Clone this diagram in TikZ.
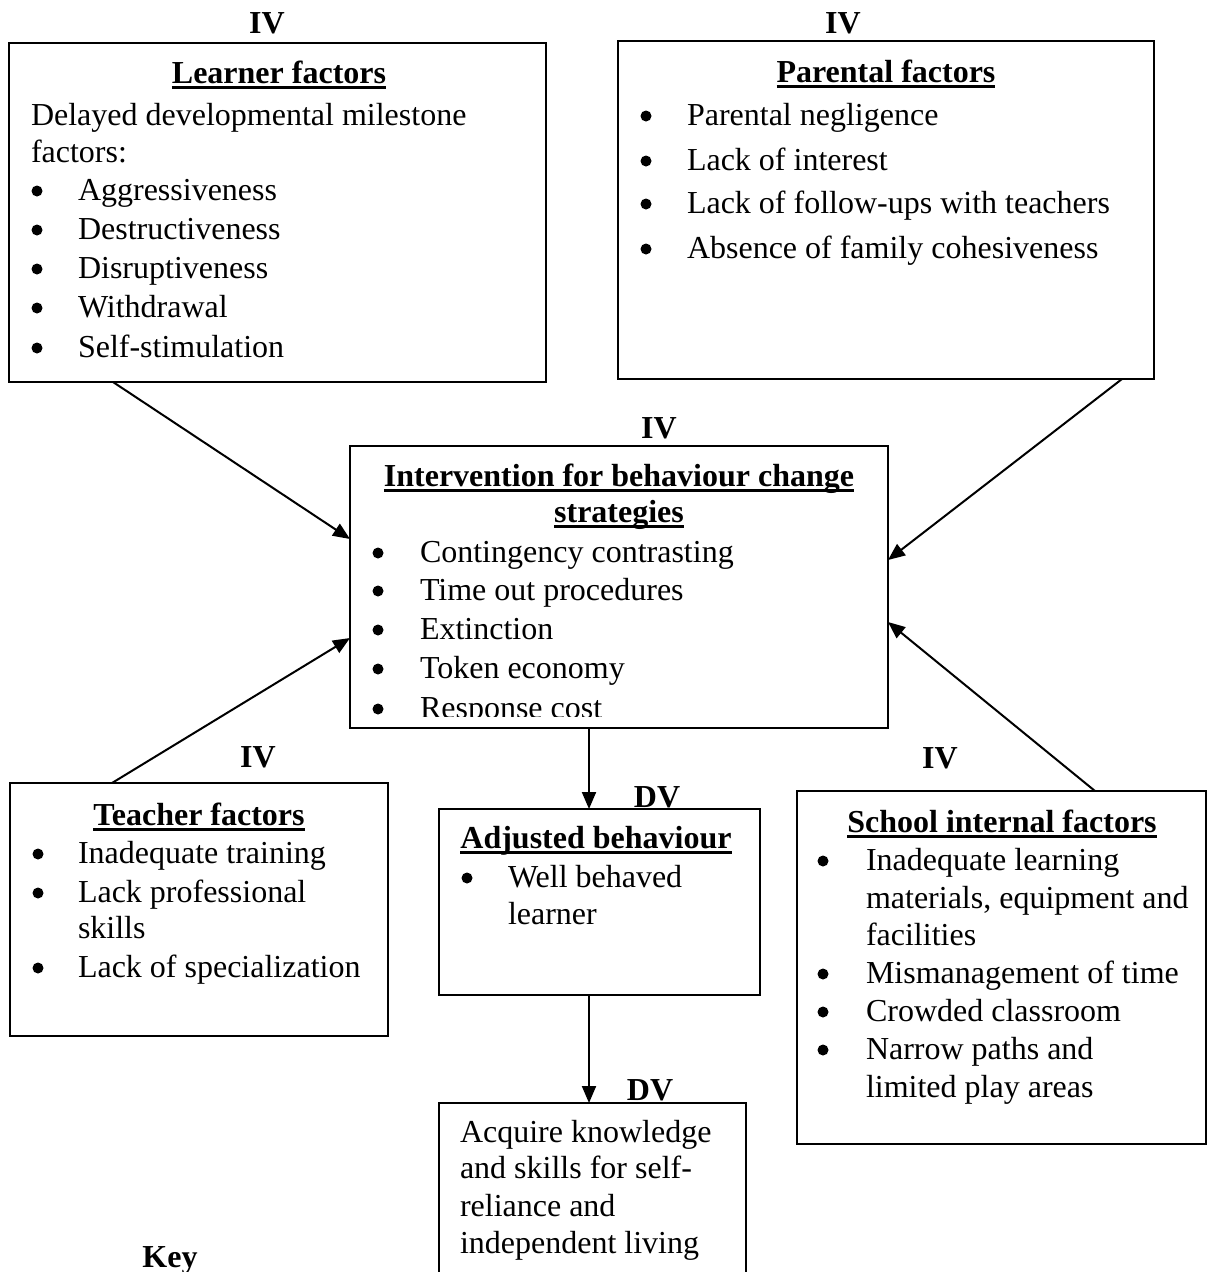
\documentclass[tikz,border=0pt]{standalone}
\usepackage{fontspec}
\setmainfont{Liberation Serif}
\usetikzlibrary{arrows.meta}
\newsavebox\hdbox
\newcommand\hul[1]{\sbox\hdbox{\bfseries #1}\rlap{\rule[-6pt]{\wd\hdbox}{3pt}}\usebox\hdbox}
\newcommand\bul[2]{\fill (#1,#2) circle (5.5pt);}
\newcommand\txtline[4]{\node[txt] (#1) at (#2,#3) {#4};}
\begin{document}
\begin{tikzpicture}[x=1pt,y=-1pt,
  box/.style={draw, line width=2pt, anchor=north west, inner sep=0pt, outer sep=0pt},
  txt/.style={anchor=base west, inner sep=0pt, outer sep=0pt, font=\fontsize{32}{38}\selectfont},
  ctxt/.style={txt, anchor=base},
  lab/.style={anchor=base, inner sep=0pt, outer sep=0pt, font=\fontsize{32}{38}\selectfont\bfseries},
  arr/.style={line width=2pt, -{Triangle[length=17pt,width=14pt]}}]
\path[use as bounding box] (0,0) rectangle (1215,1272);
\clip (0,0) rectangle (1215,1272);

% boxes
\node[box, minimum width=537pt, minimum height=339pt] (learner) at (9,43) {};
\node[box, minimum width=536pt, minimum height=338pt] (parental) at (618,41) {};
\node[box, minimum width=538pt, minimum height=282pt] (central) at (350,446) {};
\node[box, minimum width=378pt, minimum height=253pt] (teacher) at (10,783) {};
\node[box, minimum width=321pt, minimum height=186pt] (adjusted) at (439,809) {};
\node[box, minimum width=409pt, minimum height=353pt] (school) at (797,791) {};
\node[box, minimum width=307pt, minimum height=200pt] (acquire) at (439,1103) {};

% labels
\node[lab] (ivL) at (267,33) {IV};
\node[lab] (ivP) at (843,33) {IV};
\node[lab] (ivC) at (659,438) {IV};
\node[lab] (ivT) at (258,767) {IV};
\node[lab] (ivS) at (940,768) {IV};
\node[lab] (dvA) at (657,807) {DV};
\node[lab] (dvQ) at (650,1100) {DV};
\node[lab] (key) at (170,1267) {Key};

% learner
\node[ctxt] (hL) at (279,83) {\hul{Learner factors}};
\txtline{l1}{31}{125}{Delayed developmental milestone}
\txtline{l2}{31}{162}{factors:}
\txtline{l3}{78}{200}{Aggressiveness}
\txtline{l4}{78}{239}{Destructiveness}
\txtline{l5}{78}{278}{Disruptiveness}
\txtline{l6}{78}{317}{Withdrawal}
\txtline{l7}{78}{357}{Self-stimulation}
\bul{37}{191}\bul{37}{230}\bul{37}{269}\bul{37}{308}\bul{37}{348}

% parental
\node[ctxt] (hP) at (886,82) {\hul{Parental factors}};
\txtline{p1}{687}{125}{Parental negligence}
\txtline{p2}{687}{170}{Lack of interest}
\txtline{p3}{687}{213}{Lack of follow-ups with teachers}
\txtline{p4}{687}{258}{Absence of family cohesiveness}
\bul{646}{116}\bul{646}{161}\bul{646}{204}\bul{646}{249}

% central
\node[ctxt] (hC1) at (619,486) {\hul{Intervention for behaviour change}};
\node[ctxt] (hC2) at (619,522) {\hul{strategies}};
\txtline{c1}{420}{562}{Contingency contrasting}
\txtline{c2}{420}{600}{Time out procedures}
\txtline{c3}{420}{639}{Extinction}
\txtline{c4}{420}{678}{Token economy}
\begin{scope}
\clip (350,446) rectangle (888,716);
\txtline{c5}{420}{718}{Response cost}
\end{scope}
\bul{378}{553}\bul{378}{591}\bul{378}{630}\bul{378}{669}\bul{378}{709}

% teacher
\node[ctxt] (hT) at (199,825) {\hul{Teacher factors}};
\txtline{t1}{78}{863}{Inadequate training}
\txtline{t2}{78}{902}{Lack professional}
\txtline{t3}{78}{938}{skills}
\txtline{t4}{78}{977}{Lack of specialization}
\bul{38}{854}\bul{38}{893}\bul{38}{968}

% adjusted
\node[ctxt] (hA) at (596,848) {\hul{Adjusted behaviour}};
\txtline{a1}{508}{887}{Well behaved}
\txtline{a2}{508}{924}{learner}
\bul{467}{878}

% acquire
\txtline{q1}{460}{1142}{Acquire knowledge}
\txtline{q2}{460}{1178}{and skills for self-}
\txtline{q3}{460}{1216}{reliance and}
\txtline{q4}{460}{1253}{independent living}

% school
\node[ctxt] (hS) at (1002,832) {\hul{School internal factors}};
\txtline{s1}{866}{870}{Inadequate learning}
\txtline{s2}{866}{908}{materials, equipment and}
\txtline{s3}{866}{945}{facilities}
\txtline{s4}{866}{983}{Mismanagement of time}
\txtline{s5}{866}{1021}{Crowded classroom}
\txtline{s6}{866}{1059}{Narrow paths and}
\txtline{s7}{866}{1097}{limited play areas}
\bul{823}{861}\bul{823}{974}\bul{823}{1012}\bul{823}{1050}

% connectors
\draw[arr] ([xshift=104pt]learner.south west) -- ([yshift=48pt]central.west);
\draw[arr] ([xshift=-32pt]parental.south east) -- ([yshift=27pt]central.east);
\draw[arr] ([xshift=102pt]teacher.north west) -- ([yshift=-51pt]central.west);
\draw[arr] ([xshift=298pt]school.north west) -- ([yshift=-35pt]central.east);
\draw[arr] ([xshift=239pt]central.south west) -- ([xshift=150pt]adjusted.north west);
\draw[arr] ([xshift=150pt]adjusted.south west) -- ([xshift=150pt]acquire.north west);
\end{tikzpicture}
\end{document}
